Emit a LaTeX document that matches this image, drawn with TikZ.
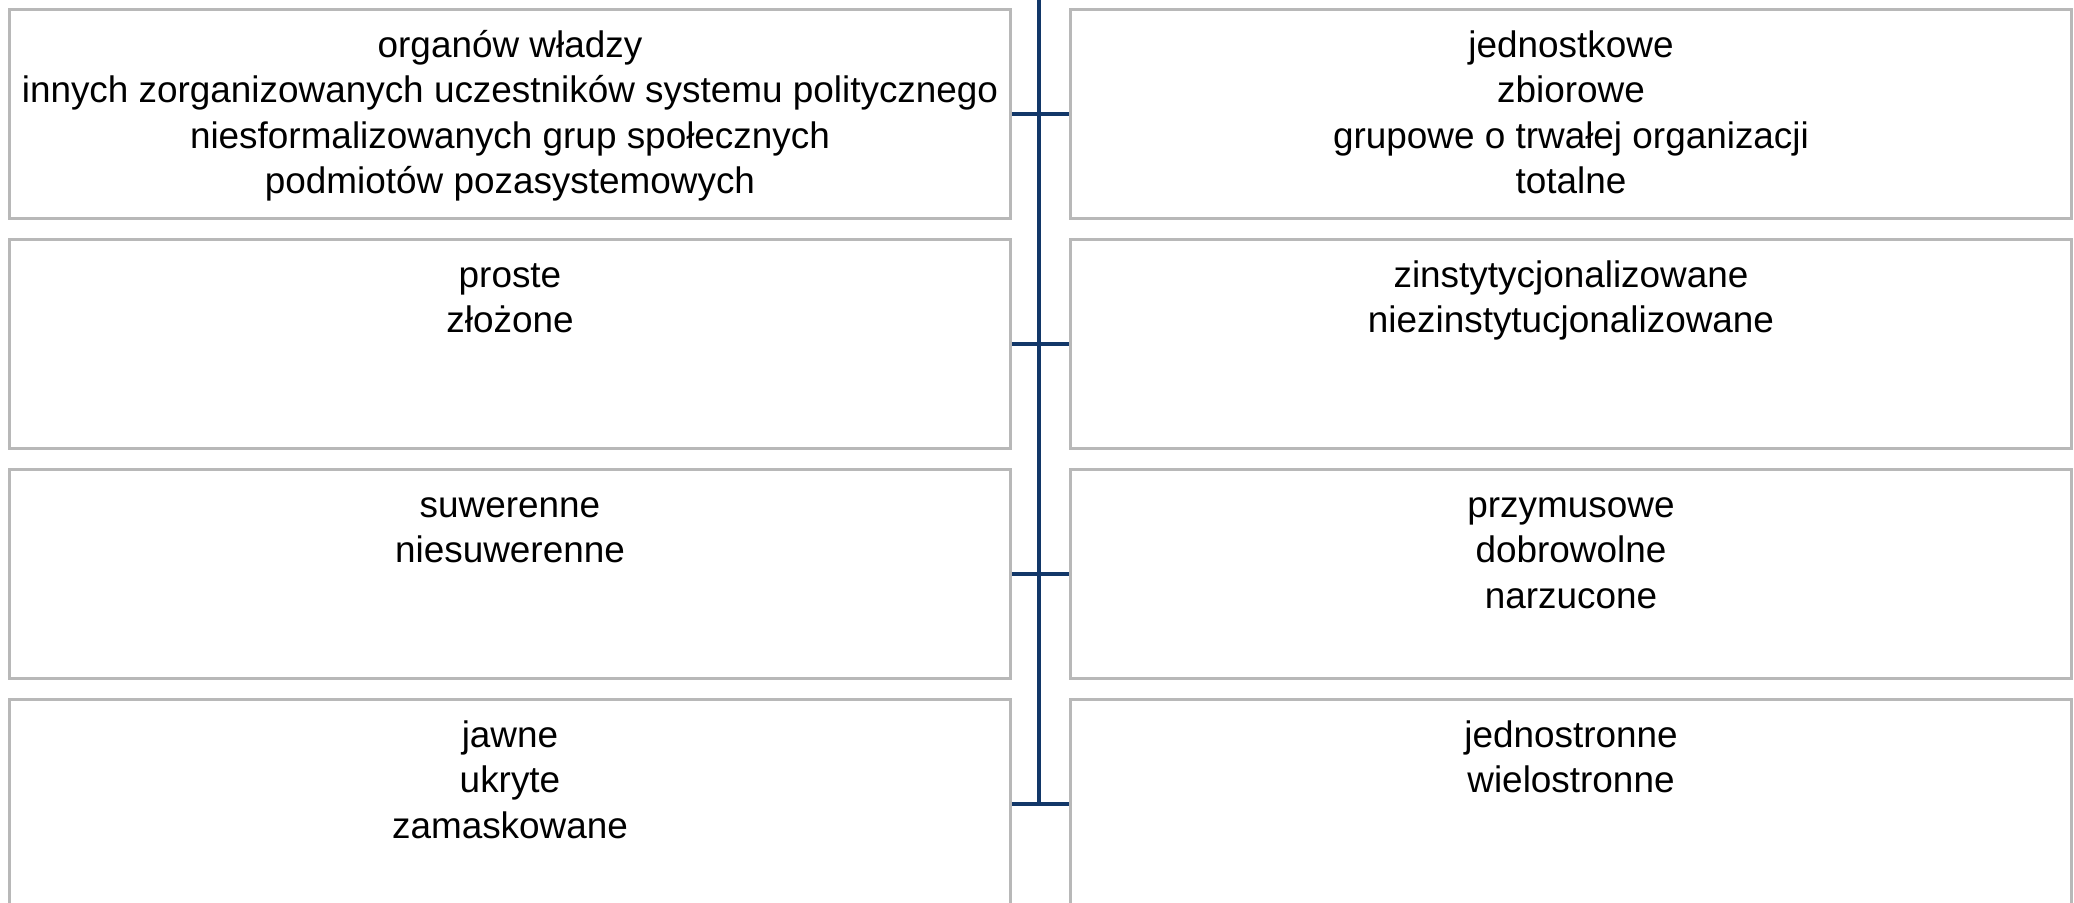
\documentclass[tikz,border=0pt]{standalone}
\usepackage{fontspec}
\setmainfont{Liberation Sans}
\usetikzlibrary{positioning}

\definecolor{boxgray}{RGB}{184,184,184}
\definecolor{spineblue}{RGB}{18,55,104}

\begin{document}
\begin{tikzpicture}[
        catbox/.style={draw=boxgray,line width=0.85pt,minimum width=10.01cm,minimum height=2.09cm,inner sep=0pt,anchor=north west},
        cattext/.style={font=\fontsize{10.5}{12.95}\selectfont,align=center,anchor=north,inner sep=0pt},
        link/.style={draw=spineblue,line width=1pt}
    ]
        \useasboundingbox (0,0) rectangle (20.74,-9.03);
        % Boxes with their lists
        \foreach \row/\ltxt/\rtxt in {
            1/{organów władzy\\innych zorganizowanych uczestników systemu politycznego\\niesformalizowanych grup społecznych\\podmiotów pozasystemowych}/{jednostkowe\\zbiorowe\\grupowe o trwałej organizacji\\totalne},
            2/{proste\\złożone}/{zinstytycjonalizowane\\niezinstytucjonalizowane},
            3/{suwerenne\\niesuwerenne}/{przymusowe\\dobrowolne\\narzucone},
            4/{jawne\\ukryte\\zamaskowane}/{jednostronne\\wielostronne}} {
            \node[catbox] (L\row) at (0.08,{-0.08-2.3*(\row-1)}) {};
            \node[catbox] (R\row) at (10.69,{-0.08-2.3*(\row-1)}) {};
            \node[cattext] (L\row txt) at ([yshift=-0.165cm]L\row.north) {\strut\ltxt};
            \node[cattext] (R\row txt) at ([yshift=-0.165cm]R\row.north) {\strut\rtxt};
        }
        % Spine and links
        \coordinate (spinetop) at (10.39,0);
        \draw[link] (spinetop) -- (spinetop |- L4.east);
        \foreach \row in {1,...,4} {
            \draw[link] (L\row.east) -- (R\row.west);
        }
\end{tikzpicture}
\end{document}
